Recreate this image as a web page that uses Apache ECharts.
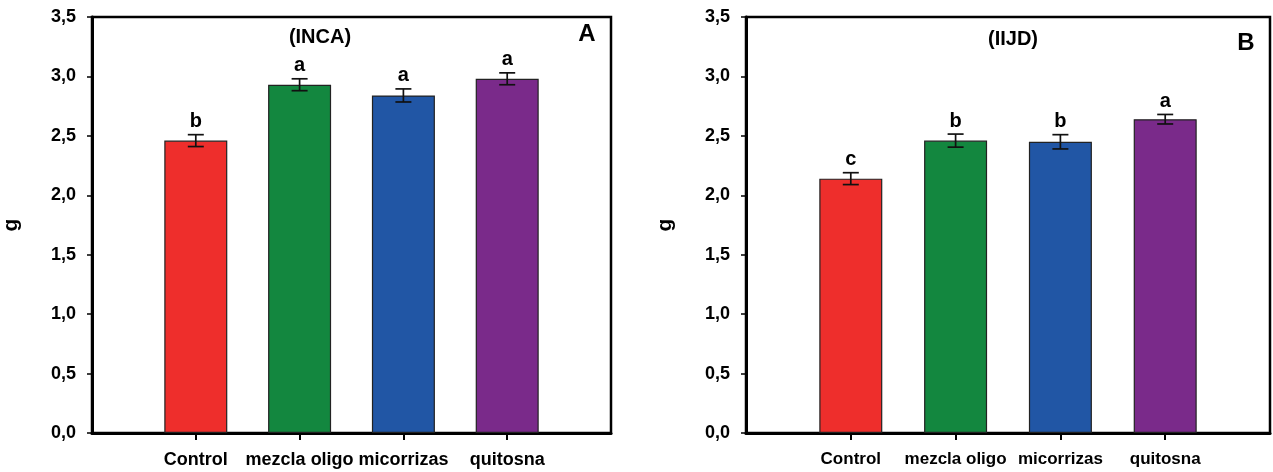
<!DOCTYPE html>
<html>
<head>
<meta charset="utf-8">
<script src="https://cdn.jsdelivr.net/npm/echarts@6/dist/echarts.min.js"></script>
<style>
  html, body { margin: 0; padding: 0; background: #fff; }
  #chart { width: 1273px; height: 472px; }
</style>
</head>
<body>
<div id="chart"></div>
<script>
// Treatments and measured means (g) with their error bars and significance letters
const categories = ['Control', 'mezcla oligo', 'micorrizas', 'quitosna'];

const incaMean = [2.46, 2.93, 2.84, 2.98];
const incaErr = [0.05, 0.05, 0.055, 0.05];
const incaLetters = ['b', 'a', 'a', 'a'];

const iijdMean = [2.14, 2.46, 2.45, 2.64];
const iijdErr = [0.05, 0.055, 0.06, 0.04];
const iijdLetters = ['c', 'b', 'b', 'a'];

const yTicks = [0, 0.5, 1, 1.5, 2, 2.5, 3, 3.5];

const barColors = ['#ee2e2c', '#13873f', '#2156a5', '#7a2a8a'];
const FONT = '"Liberation Sans", Arial, sans-serif';

// Category axis padded with an empty slot at each end so the bars sit at 1..4 of 0..5
const paddedCats = [''].concat(categories, ['']);

function barData(means) {
  return ['-'].concat(means.map((v, i) => ({
    value: v,
    itemStyle: { color: barColors[i] }
  })), ['-']);
}

function errData(means, errs) {
  return means.map((v, i) => [i + 1, v - errs[i], v + errs[i]]);
}

function errRender(letters) {
  return function (params, api) {
    const idx = api.value(0);
    const lo = api.coord([idx, api.value(1)]);
    const hi = api.coord([idx, api.value(2)]);
    const half = 8;
    const style = { stroke: '#111', lineWidth: 1.7 };
    return {
      type: 'group',
      children: [
        { type: 'line', shape: { x1: lo[0], y1: lo[1], x2: hi[0], y2: hi[1] }, style },
        { type: 'line', shape: { x1: lo[0] - half, y1: lo[1], x2: lo[0] + half, y2: lo[1] }, style },
        { type: 'line', shape: { x1: hi[0] - half, y1: hi[1], x2: hi[0] + half, y2: hi[1] }, style },
        {
          type: 'text',
          style: {
            text: letters[params.dataIndex],
            x: hi[0], y: hi[1] - 3,
            align: 'center', verticalAlign: 'bottom',
            font: 'bold 20px ' + FONT, fill: '#000'
          }
        }
      ]
    };
  };
}

function xAxisFor(gridIndex, fontSize) {
  return {
    type: 'category',
    gridIndex,
    data: paddedCats,
    boundaryGap: false,
    axisLine: { lineStyle: { color: '#000', width: 3 } },
    axisTick: {
      interval: (i) => i > 0 && i < paddedCats.length - 1,
      length: 7, lineStyle: { color: '#000', width: 2 }
    },
    axisLabel: {
      interval: 0, margin: 18, color: '#000',
      fontFamily: FONT, fontWeight: 'bold', fontSize
    },
    splitLine: { show: false }
  };
}

function yAxisFor(gridIndex, nameGap) {
  return {
    type: 'value',
    gridIndex,
    min: yTicks[0], max: yTicks[yTicks.length - 1], interval: 0.5,
    name: 'g', nameLocation: 'middle', nameGap, nameRotate: 90,
    nameTextStyle: { color: '#000', fontFamily: FONT, fontWeight: 'bold', fontSize: 21 },
    axisLine: { show: true, lineStyle: { color: '#000', width: 3 } },
    axisTick: { show: true, length: 5, lineStyle: { color: '#000', width: 1.5 } },
    axisLabel: {
      margin: 16, color: '#000', fontFamily: FONT, fontWeight: 'bold', fontSize: 18,
      formatter: (v) => v.toFixed(1).replace('.', ',')
    },
    splitLine: { show: false }
  };
}

const barCommon = {
  type: 'bar',
  barWidth: 63,
  itemStyle: { borderColor: '#222', borderWidth: 1.2 },
  z: 2
};

const chart = echarts.init(document.getElementById('chart'), null, { renderer: 'canvas' });
chart.setOption({
  backgroundColor: '#fff',
  animation: false,
  grid: [
    { left: 83, right: 662, top: 17, bottom: 39, show: true, borderColor: '#000', borderWidth: 2.5 },
    { left: 746, right: 3, top: 17, bottom: 39, show: true, borderColor: '#000', borderWidth: 2.5 }
  ],
  xAxis: [xAxisFor(0, 18), xAxisFor(1, 17)],
  yAxis: [yAxisFor(0, 70), yAxisFor(1, 70)],
  series: [
    Object.assign({}, barCommon, { xAxisIndex: 0, yAxisIndex: 0, data: barData(incaMean) }),
    {
      type: 'custom', xAxisIndex: 0, yAxisIndex: 0, z: 5,
      renderItem: errRender(incaLetters),
      encode: { x: 0, y: [1, 2] },
      data: errData(incaMean, incaErr)
    },
    Object.assign({}, barCommon, { xAxisIndex: 1, yAxisIndex: 1, data: barData(iijdMean) }),
    {
      type: 'custom', xAxisIndex: 1, yAxisIndex: 1, z: 5,
      renderItem: errRender(iijdLetters),
      encode: { x: 0, y: [1, 2] },
      data: errData(iijdMean, iijdErr)
    }
  ],
  graphic: [
    { type: 'text', x: 320, y: 37, style: { text: '(INCA)', align: 'center', verticalAlign: 'middle', font: 'bold 20px ' + FONT, fill: '#000' } },
    { type: 'text', x: 587, y: 34, style: { text: 'A', align: 'center', verticalAlign: 'middle', font: 'bold 24px ' + FONT, fill: '#000' } },
    { type: 'text', x: 1013, y: 39, style: { text: '(IIJD)', align: 'center', verticalAlign: 'middle', font: 'bold 20px ' + FONT, fill: '#000' } },
    { type: 'text', x: 1246, y: 43, style: { text: 'B', align: 'center', verticalAlign: 'middle', font: 'bold 24px ' + FONT, fill: '#000' } }
  ]
});
</script>
</body>
</html>
